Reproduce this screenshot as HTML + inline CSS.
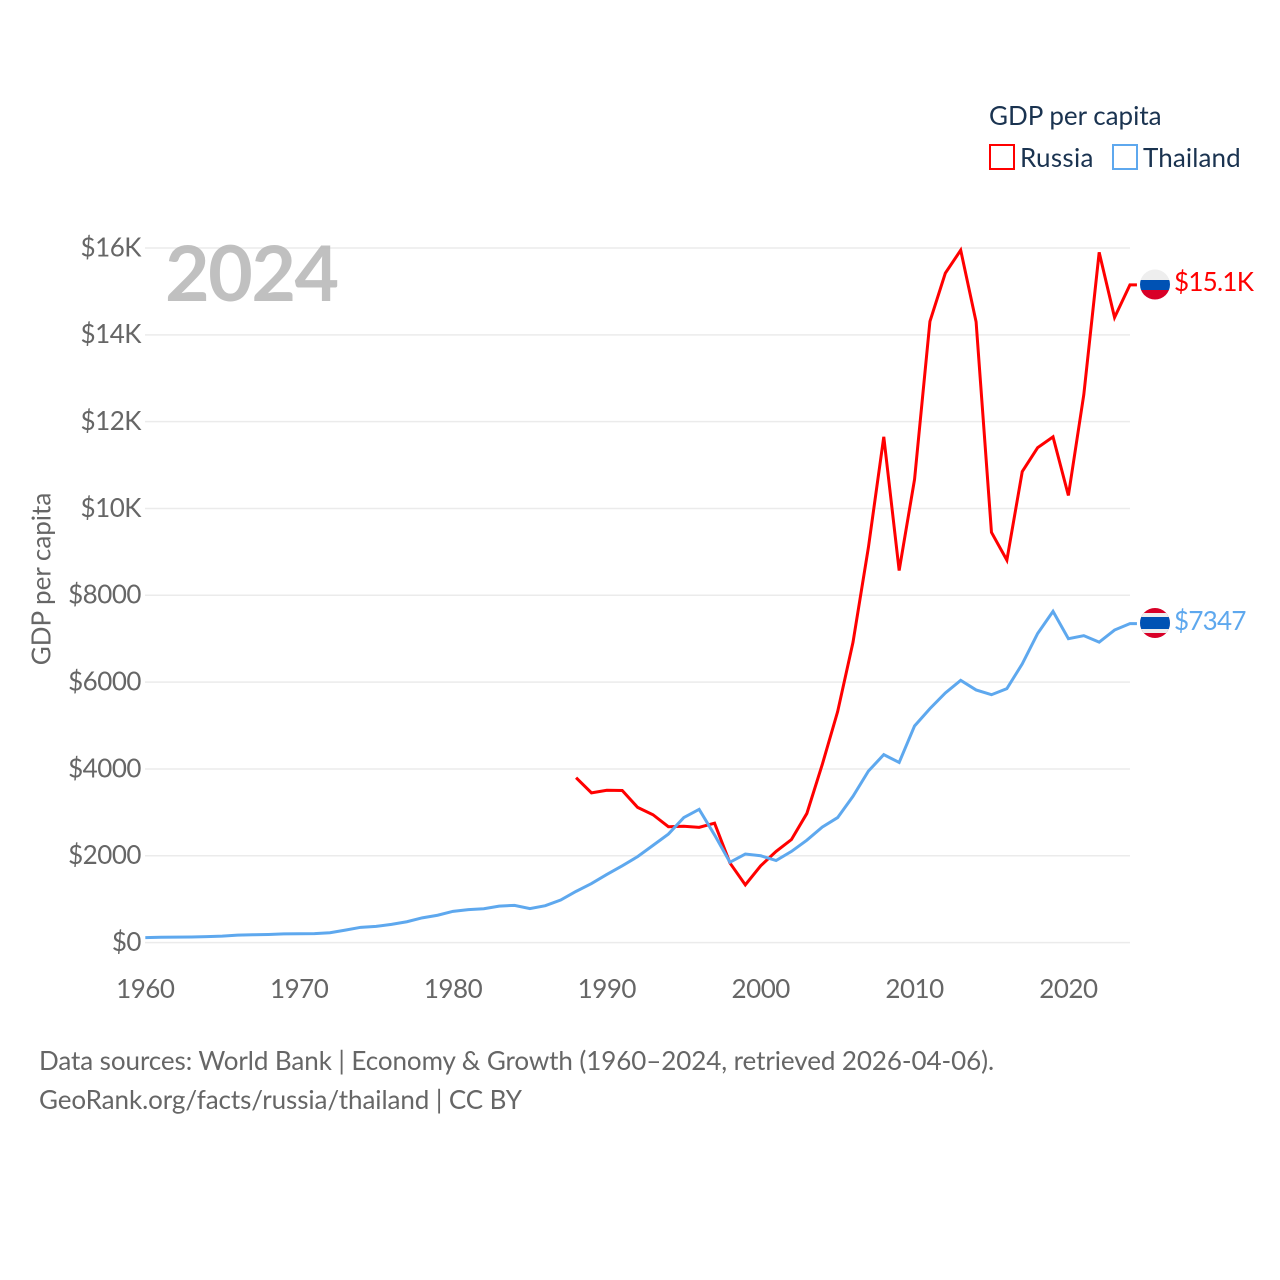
<!DOCTYPE html>
<html lang="en">
<head>
<meta charset="utf-8">
<title>GDP per capita: Russia and Thailand</title>
<style>
html,body{margin:0;padding:0;background:#fff}
svg{display:block}
text{font-family:"Lato","Carlito","Liberation Sans",sans-serif}
.tick{font-size:26px;fill:#666}
.num{letter-spacing:-0.5px}
.end{letter-spacing:-0.75px}
.legend{font-size:26px;fill:#1a3350}
.foot{font-size:26px;fill:#666;letter-spacing:-0.08px}
</style>
</head>
<body>
<svg id="chart" width="1280" height="1280" viewBox="0 0 1280 1280" xmlns="http://www.w3.org/2000/svg">
  <defs>
    <clipPath id="flag-clip-ru"><circle cx="1155" cy="284.500" r="15"/></clipPath>
    <clipPath id="flag-clip-th"><circle cx="1155" cy="623" r="15"/></clipPath>
  </defs>
  <g id="grid"></g>
  <text x="165" y="301" font-size="77" font-weight="700" fill="#b5b5b5" fill-opacity="0.85" letter-spacing="-1.5">2024</text>
  <g id="y-ticks"></g>
  <g id="x-ticks"></g>
  <text class="tick" transform="translate(50.700,579) rotate(-90)" text-anchor="middle">GDP per capita</text>
  <g id="series"></g>

  <g>
    <text class="legend" x="989" y="125">GDP per capita</text>
    <rect x="990" y="145" width="24" height="24" fill="#fff" stroke="#ff0000" stroke-width="2"/>
    <text class="legend" x="1020" y="167" letter-spacing="0.3">Russia</text>
    <rect x="1113" y="145" width="24" height="24" fill="#fff" stroke="#5ea8ee" stroke-width="2"/>
    <text class="legend" x="1143" y="167" letter-spacing="0.1">Thailand</text>
  </g>

  <g clip-path="url(#flag-clip-ru)">
    <rect x="1140" y="269" width="30" height="11" fill="#eeeeee"/>
    <rect x="1140" y="280" width="30" height="10" fill="#0052b4"/>
    <rect x="1140" y="290" width="30" height="10" fill="#d80027"/>
  </g>
  <text id="label-ru" class="end" x="1174" y="291" font-size="26" fill="#ff0000"></text>

  <g clip-path="url(#flag-clip-th)">
    <rect x="1140" y="608" width="30" height="30" fill="#d80027"/>
    <rect x="1140" y="613" width="30" height="20" fill="#eeeeee"/>
    <rect x="1140" y="617" width="30" height="12" fill="#0052b4"/>
  </g>
  <text id="label-th" class="end" x="1174" y="630" font-size="26" fill="#5ea8ee"></text>

  <text class="foot" x="39" y="1070">Data sources: World Bank | Economy &amp; Growth (1960–2024, retrieved 2026-04-06).</text>
  <text class="foot" x="39" y="1109">GeoRank.org/facts/russia/thailand | CC BY</text>
</svg>
<script>
const yTickValues = [0, 2000, 4000, 6000, 8000, 10000, 12000, 14000, 16000];
const yTickLabels = ["$0", "$2000", "$4000", "$6000", "$8000", "$10K", "$12K", "$14K", "$16K"];
const xTickYears = [1960, 1970, 1980, 1990, 2000, 2010, 2020];
const thailandYears = [1960,1961,1962,1963,1964,1965,1966,1967,1968,1969,1970,1971,1972,1973,1974,1975,1976,1977,1978,1979,1980,1981,1982,1983,1984,1985,1986,1987,1988,1989,1990,1991,1992,1993,1994,1995,1996,1997,1998,1999,2000,2001,2002,2003,2004,2005,2006,2007,2008,2009,2010,2011,2012,2013,2014,2015,2016,2017,2018,2019,2020,2021,2022,2023,2024];
const thailandValues = [115,122,126,130,138,150,172,180,188,200,205,207,228,288,352,373,420,480,570,630,720,760,780,840,858,782,850,980,1180,1360,1570,1770,1980,2240,2500,2880,3070,2480,1850,2040,2000,1890,2100,2360,2660,2880,3370,3950,4330,4150,4990,5390,5750,6040,5820,5710,5850,6420,7120,7630,7000,7070,6920,7200,7347];
const russiaYears = [1988,1989,1990,1991,1992,1993,1994,1995,1996,1997,1998,1999,2000,2001,2002,2003,2004,2005,2006,2007,2008,2009,2010,2011,2012,2013,2014,2015,2016,2017,2018,2019,2020,2021,2022,2023,2024];
const russiaValues = [3800,3450,3510,3505,3115,2945,2670,2680,2655,2750,1835,1330,1770,2100,2375,2975,4100,5320,6920,9100,11650,8570,10670,14310,15420,15950,14300,9450,8810,10850,11400,11650,10300,12620,15900,14400,15150];
const russiaEndLabel = "$15.1K";
const thailandEndLabel = "$7347";

const NS = "http://www.w3.org/2000/svg";
const xScale = function (year) { return 145.3 + (year - 1960) * 15.385; };
const yScale = function (value) { return 942.6 - value * (942.6 - 248) / 16000; };

function make(tag, parent) {
  const el = document.createElementNS(NS, tag);
  parent.appendChild(el);
  return el;
}

const gridGroup = document.getElementById("grid");
const yGroup = document.getElementById("y-ticks");
yTickValues.forEach(function (value, i) {
  const line = make("line", gridGroup);
  
  
  line.setAttribute("x1", 145);
  line.setAttribute("x2", 1130);
  line.setAttribute("y1", yScale(value));
  line.setAttribute("y2", yScale(value));
  line.setAttribute("stroke", "#ebebeb");
  line.setAttribute("stroke-width", 1.5);
  const label = make("text", yGroup);
  
  
  label.setAttribute("class", "tick num");
  label.setAttribute("x", 141);
  label.setAttribute("y", yScale(value) + 8.4);
  label.setAttribute("text-anchor", "end");
  label.textContent = yTickLabels[i];
});

const xGroup = document.getElementById("x-ticks");
xTickYears.forEach(function (year) {
  const label = make("text", xGroup);
  
  
  label.setAttribute("class", "tick num");
  label.setAttribute("x", xScale(year));
  label.setAttribute("y", 998);
  label.setAttribute("text-anchor", "middle");
  label.textContent = String(year);
});

function pathFor(years, values) {
  let d = "";
  years.forEach(function (year, i) {
    d += (i ? "L" : "M") + xScale(year).toFixed(2) + " " + yScale(values[i]).toFixed(2);
  });
  d += "h7";
  return d;
}

const seriesGroup = document.getElementById("series");

const russiaLine = make("path", seriesGroup);


russiaLine.setAttribute("d", pathFor(russiaYears, russiaValues));
russiaLine.setAttribute("fill", "none");
russiaLine.setAttribute("stroke", "#ff0000");
russiaLine.setAttribute("stroke-width", 3);

const thailandLine = make("path", seriesGroup);


thailandLine.setAttribute("d", pathFor(thailandYears, thailandValues));
thailandLine.setAttribute("fill", "none");
thailandLine.setAttribute("stroke", "#5ea8ee");
thailandLine.setAttribute("stroke-width", 3);

document.getElementById("label-ru").textContent = russiaEndLabel;
document.getElementById("label-th").textContent = thailandEndLabel;
</script>
</body>
</html>
